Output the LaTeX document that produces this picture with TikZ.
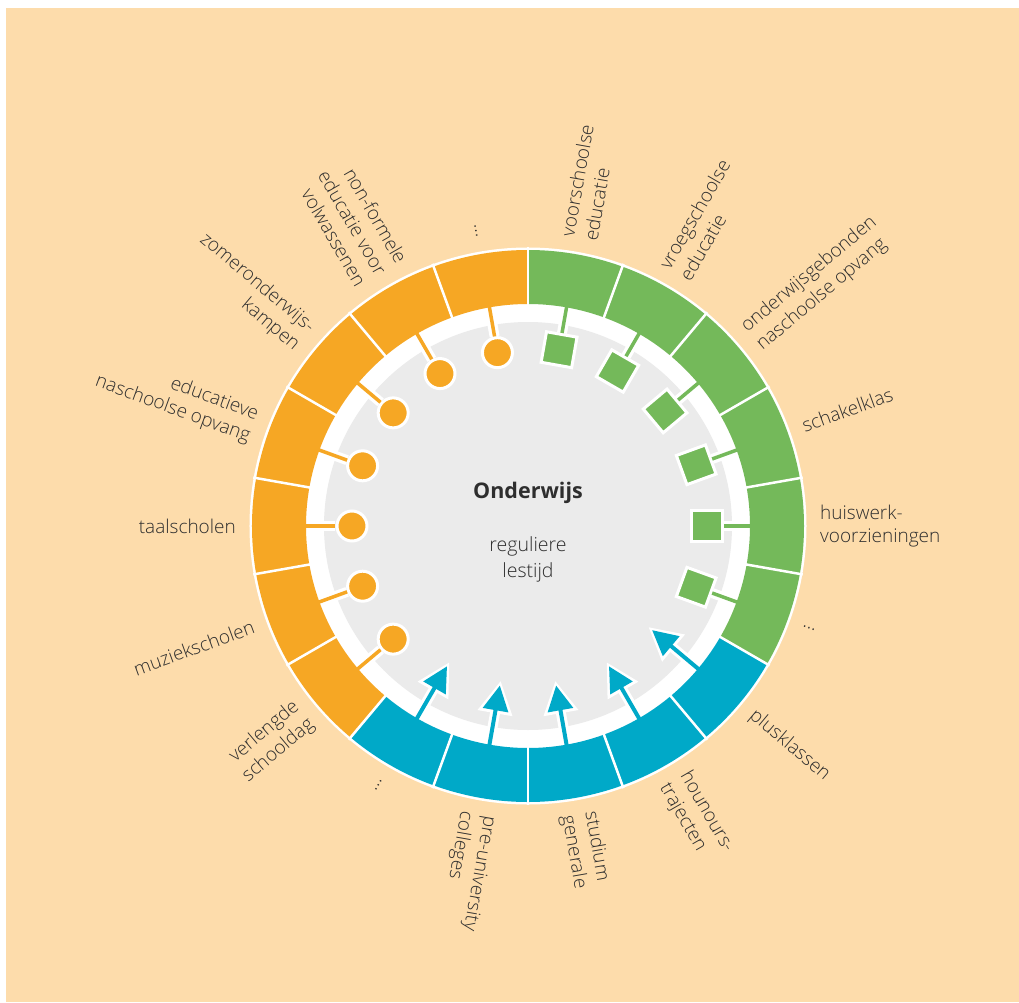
\documentclass[tikz,border=0pt]{standalone}
\usepackage{fontspec}
\IfFontExistsTF{Open Sans Light}{\setmainfont{Open Sans Light}}{\setmainfont{Open Sans}}
\newfontfamily\titlefont{Open Sans}
\usetikzlibrary{arrows.meta}
\definecolor{peach}{HTML}{FDDCAB}
\definecolor{ora}{HTML}{F6A724}
\definecolor{grn}{HTML}{74B95A}
\definecolor{blu}{HTML}{00A9C8}
\definecolor{gry}{HTML}{EBEBEB}
\definecolor{txt}{HTML}{2E2E2E}
\begin{document}
\begin{tikzpicture}[x=1pt,y=1pt,
  lbl/.style={text=txt, font=\fontsize{19}{23.5}\selectfont, inner sep=0pt},
  rlbl/.style={lbl, anchor=west, align=left},
  llbl/.style={lbl, anchor=east, align=right},
  sqm/.style={rectangle, draw=white, line width=3pt, fill=grn, minimum size=31pt, inner sep=0pt},
  dotm/.style={circle, draw=white, line width=3pt, fill=ora, minimum size=30pt, inner sep=0pt},
  casing/.style={white, line width=10pt, shorten <=16pt},
  gline/.style={grn, line width=3.5pt},
  oline/.style={ora, line width=3.5pt},
  bcasing/.style={white, line width=10pt, shorten <=16pt, -{Triangle[length=33pt, width=33pt]}},
  bline/.style={blu, line width=4pt, -{Triangle[length=25pt, width=25pt]}},
]
\useasboundingbox (-528,-476) rectangle (491,526);
\fill[peach] (-522,-476) rectangle (491,518);
% ring
\fill[white] (0,0) circle (278.5);
\foreach \a/\c in {90/grn,70/grn,50/grn,30/grn,10/grn,-10/grn,-30/blu,-50/blu,-70/blu,-90/blu,-110/blu,-130/ora,-150/ora,-170/ora,-190/ora,-210/ora,-230/ora,-250/ora}{
  \fill[\c] (\a:222) arc[start angle=\a, end angle=\a-20, radius=222] -- ({\a-20}:276) arc[start angle=\a-20, end angle=\a, radius=276] -- cycle;
}
\foreach \a in {90,70,...,-250}{
  \draw[white, line width=2.5pt] (\a:221) -- (\a:279);
}
\fill[gry] (0,0) circle (204);
% green squares
\foreach \a [count=\i] in {80,60,40,20,0,-20}{
  \coordinate (gr\i) at (\a:224);
  \node[sqm, rotate=\a] (gm\i) at (\a:179) {};
  \draw[casing] (gr\i) -- (gm\i);
  \draw[gline] (gr\i) -- (gm\i);
}
% orange dots
\foreach \a [count=\i] in {220,200,180,160,140,120,100}{
  \coordinate (or\i) at (\a:224);
  \node[dotm] (om\i) at (\a:176) {};
  \draw[casing] (or\i) -- (om\i);
  \draw[oline] (or\i) -- (om\i);
}
% blue arrows
\foreach \a [count=\i] in {-40,-60,-80,-100,-120}{
  \coordinate (br\i) at (\a:224);
  \coordinate (bw\i) at (\a:157);
  \coordinate (bt\i) at (\a:162);
  \draw[bcasing] (br\i) -- (bw\i);
  \draw[bline] (br\i) -- (bt\i);
}
% centre
\node[font=\titlefont\fontsize{21.5}{25}\selectfont\bfseries, text=txt] (title) at (0,33) {Onderwijs};
\node[lbl, align=center, font=\fontsize{19.5}{26}\selectfont] (sub) at (0,-33) {reguliere\\lestijd};
% labels right
\node[rlbl, rotate=80] (l1) at (80:292) {voorschoolse\\educatie};
\node[rlbl, rotate=60] (l2) at (60:292) {vroegschoolse\\educatie};
\node[rlbl, rotate=40] (l3) at (40:292) {onderwijsgebonden\\naschoolse opvang};
\node[rlbl, rotate=20] (l4) at (20:292) {schakelklas};
\node[rlbl, rotate=0] (l5) at (0:292) {huiswerk-\\voorzieningen};
\node[rlbl, rotate=-20] (l6) at (-20:292) {…};
\node[rlbl, rotate=-40] (l7) at (-40:292) {plusklassen};
\node[rlbl, rotate=-60] (l8) at (-60:292) {hounours-\\trajecten};
\node[rlbl, rotate=-80] (l9) at (-80:292) {studium\\generale};
\node[rlbl, rotate=-100] (l10) at (-100:292) {pre-university\\colleges};
% labels left
\node[llbl, rotate=60] (l11) at (-120:292) {…};
\node[llbl, rotate=40] (l12) at (-140:292) {verlengde\\schooldag};
\node[llbl, rotate=20] (l13) at (-160:292) {muziekscholen};
\node[llbl, rotate=0] (l14) at (180:292) {taalscholen};
\node[llbl, rotate=-20] (l15) at (160:292) {educatieve\\naschoolse opvang};
\node[llbl, rotate=-40] (l16) at (140:292) {zomeronderwijs-\\kampen};
\node[llbl, rotate=-60] (l17) at (120:292) {non-formele\\educatie voor\\volwassenen};
\node[llbl, rotate=-80] (l18) at (100:292) {…};
\end{tikzpicture}
\end{document}
